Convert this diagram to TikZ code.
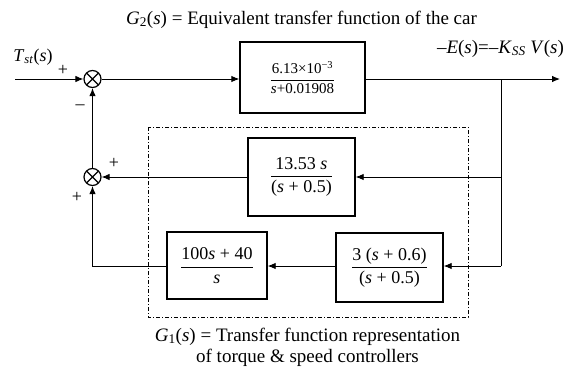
\documentclass[tikz,border=0pt]{standalone}
\usepackage{fontspec}
\usepackage{amsmath}
\setmainfont{Liberation Serif}
\usetikzlibrary{arrows.meta}
\begin{document}
\begin{tikzpicture}[x=1pt,y=-1pt,
  arr/.style={line width=0.9pt,-{Latex[length=8pt,width=6.5pt]}},
  ln/.style={line width=0.9pt},
  blk/.style={draw,line width=1.4pt,inner sep=0pt,font=\fontsize{18}{21}\selectfont},
  sumc/.style={draw,circle,line width=1.2pt,minimum size=17pt,inner sep=0pt,
    path picture={\draw[line width=1.2pt] (path picture bounding box.north west)--(path picture bounding box.south east)
      (path picture bounding box.north east)--(path picture bounding box.south west);}},
  lbl/.style={font=\fontsize{19}{22}\selectfont,inner sep=0pt},
  sgn/.style={font=\fontsize{18}{20}\selectfont,inner sep=0pt}]
\useasboundingbox (0,0) rectangle (582,370);
% dash-dot frame
\draw[line width=0.6pt,dash pattern=on 4pt off 2pt on 1pt off 2pt] (148,127) rectangle (468,317);
% sums
\node[sumc] (s1) at (92.5,79) {};
\node[sumc] (s2) at (92.5,177) {};
% blocks
\node[blk,minimum width=125pt,minimum height=71pt,font=\fontsize{15}{18}\selectfont] (g2) at (302.5,77.5)
  {$\dfrac{\text{6.13×10\textsuperscript{−3}}}{\text{\textit{s}+0.01908}}$};
\node[blk,minimum width=107pt,minimum height=78pt] (b13) at (301.5,177)
  {$\dfrac{\text{13.53 \textit{s}}}{\text{(\textit{s} + 0.5)}}$};
\node[blk,minimum width=100pt,minimum height=67pt] (b100) at (217,265.5)
  {$\dfrac{\text{100\textit{s} + 40}}{\text{\textit{s}}}$};
\node[blk,minimum width=107pt,minimum height=69pt] (b3) at (389.5,267.5)
  {$\dfrac{\text{3 (\textit{s} + 0.6)}}{\text{(\textit{s} + 0.5)}}$};
% coordinates
\coordinate (in) at (15,79);
\coordinate (br1) at (501,79);
\coordinate (out) at (560,79);
\coordinate (br2) at (501,177);
\coordinate (br3) at (501,266);
% connectors
\draw[arr] (in) -- (s1.west);
\draw[arr] (s1.east) -- (s1.east -| g2.west);
\draw[arr] (s1.east -| g2.east) -- (out);
\draw[ln] (br1) -- (br3);
\draw[arr] (br2) -- (br2 -| b13.east);
\draw[arr] (br2 -| b13.west) -- (s2.east);
\draw[arr] (br3) -- (br3 -| b3.east);
\draw[arr] (br3 -| b3.west) -- (br3 -| b100.east);
\draw[arr] (br3 -| b100.west) -| (s2.south);
\draw[arr] (s2.north) -- (s1.south);
% labels
\node[lbl,anchor=base] (top) at (301.5,24) {\textit{G}\textsubscript{2}(\textit{s}) = Equivalent transfer function of the car};
\node[lbl,anchor=base] (outl) at (500.5,53) {–\textit{E}(\textit{s})=–\textit{K}\textsubscript{\textit{SS}} \textit{V}(\textit{s})};
\node[lbl,anchor=base,font=\fontsize{18}{21}\selectfont] (inl) at (33,61) {\textit{T}\textsubscript{\textit{st}}(\textit{s})};
\node[sgn] (p1) at (63,70) {+};
\node[sgn] (m1) at (80,107) {–};
\node[sgn] (p2) at (114,163) {+};
\node[sgn] (p3) at (77,197) {+};
\node[lbl,anchor=base] (g1a) at (307.5,341) {\textit{G}\textsubscript{1}(\textit{s}) = Transfer function representation};
\node[lbl,anchor=base] (g1b) at (307.5,362) {of torque \& speed controllers};
\end{tikzpicture}
\end{document}
